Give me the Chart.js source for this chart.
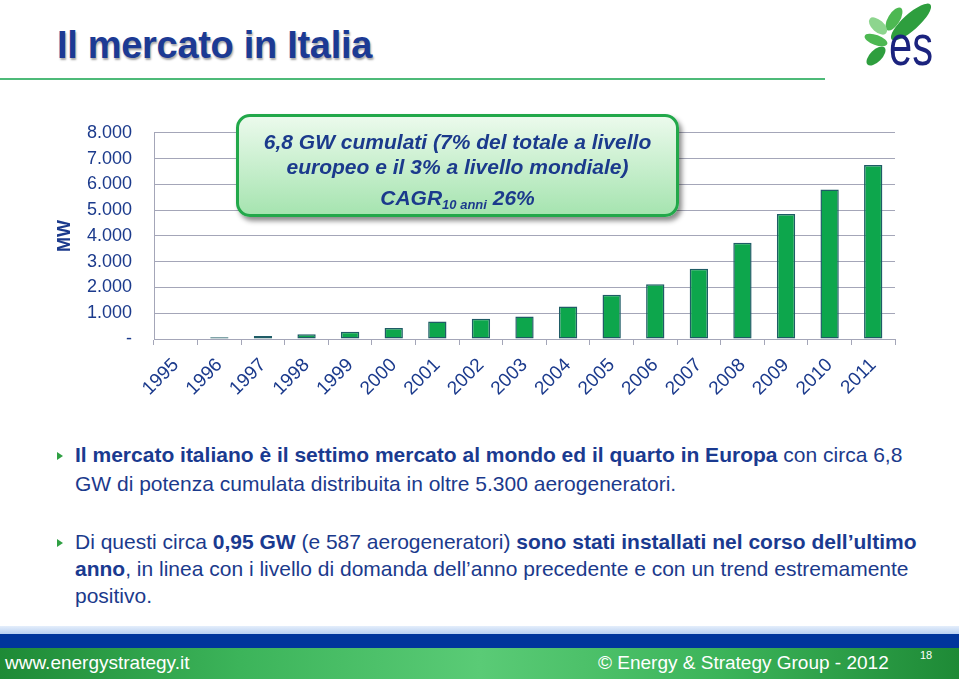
<!DOCTYPE html>
<html>
<head>
<meta charset="utf-8">
<script src="https://cdn.jsdelivr.net/npm/chart.js@4/dist/chart.umd.min.js"></script>
<style>
  body { margin: 0; width: 959px; height: 679px; background: #fff; position: relative; overflow: hidden;
         font-family: "Liberation Sans", Arial, sans-serif; color: #1B3A8C; }
  #title { position: absolute; left: 57px; top: 24px; font-size: 38px; font-weight: bold; color: #1C3A94;
           text-shadow: 1px 2px 2px rgba(0,0,0,0.35); letter-spacing: -0.3px; }
  #rule { position: absolute; left: 0; top: 78px; width: 825px; height: 2px; background: #4DBA78; }
  #logo { position: absolute; left: 850px; top: 0; }
  #chartBox { position: absolute; left: 40px; top: 100px; }
  #callout { position: absolute; left: 236px; top: 114px; width: 437px; height: 97px;
             border: 3px solid #22A84A; border-radius: 14px;
             background: linear-gradient(#EBFAEC, #A6E4B0);
             box-shadow: 3px 4px 5px rgba(0,0,0,0.45);
             text-align: center; font-weight: bold; font-style: italic; font-size: 21px; color: #1B3A8C; }
  #callout .l1 { margin-top: 12px; line-height: 25px; }
  #callout .l3 { margin-top: 6px; line-height: 25px; }
  #callout sub { font-size: 13px; vertical-align: -4px; }
  .bullet { position: absolute; left: 75px; width: 880px; font-size: 21px; color: #1B3A8C; white-space: nowrap; }
  .bullet b { color: #1A3A90; }
  .mark { position: absolute; left: 57px; width: 0; height: 0; border-top: 4px solid transparent;
          border-bottom: 4px solid transparent; border-left: 6px solid #2FA043; }
  #stripe { position: absolute; left: 0; top: 626px; width: 959px; height: 8px;
            background: linear-gradient(#E4EEFB, #B8D0F2); }
  #blueband { position: absolute; left: 0; top: 634px; width: 959px; height: 14px; background: #00359C; }
  #greenband { position: absolute; left: 0; top: 648px; width: 959px; height: 31px;
               background: linear-gradient(90deg, #1E8A36 0%, #3CB45A 25%, #5ACB76 50%, #3CB45A 75%, #1E8A36 100%); }
  .foot { position: absolute; color: #fff; font-size: 19px; }
</style>
</head>
<body>
<div id="title">Il mercato in Italia</div>
<div id="rule"></div>
<svg id="logo" width="109" height="75" viewBox="0 0 109 75">
  <ellipse cx="61" cy="22" rx="26" ry="8" transform="rotate(-42 61 22)" fill="#2E9E3E"/>
  <ellipse cx="44" cy="19" rx="13" ry="6" transform="rotate(-59 44 19)" fill="#4DB852"/>
  <ellipse cx="28" cy="26" rx="11" ry="6" transform="rotate(42 28 26)" fill="#8DD58E"/>
  <ellipse cx="26" cy="40" rx="12" ry="5" transform="rotate(20 26 40)" fill="#4DB852"/>
  <ellipse cx="26" cy="56" rx="12" ry="6" transform="rotate(-45 26 56)" fill="#2E9E3E"/>
  <text x="39" y="65" font-family="Liberation Sans, Arial, sans-serif" font-size="58" fill="#1B237E"
        textLength="44" lengthAdjust="spacingAndGlyphs">es</text>
</svg>

<div id="chartBox"><canvas id="chart" width="900" height="310"></canvas></div>

<div id="callout">
  <div class="l1">6,8 GW cumulati (7% del totale a livello<br>europeo e il 3% a livello mondiale)</div>
  <div class="l3">CAGR<sub>10 anni</sub> 26%</div>
</div>

<div class="mark" style="top: 452px;"></div>
<div class="bullet" style="top: 440px; line-height: 29px;"><b>Il mercato italiano è il settimo mercato al mondo ed il quarto in Europa</b> con circa 6,8<br>GW di potenza cumulata distribuita in oltre 5.300 aerogeneratori.</div>

<div class="mark" style="top: 539px;"></div>
<div class="bullet" style="top: 528px; line-height: 27px;">Di questi circa <b>0,95 GW</b> (e 587 aerogeneratori) <b>sono stati installati nel corso dell’ultimo</b><br><b>anno</b>, in linea con i livello di domanda dell’anno precedente e con un trend estremamente<br>positivo.</div>

<div id="stripe"></div>
<div id="blueband"></div>
<div id="greenband"></div>
<div class="foot" style="left: 5px; top: 652px;">www.energystrategy.it</div>
<div class="foot" style="left: 598px; top: 652px;">© Energy &amp; Strategy Group - 2012</div>
<div class="foot" style="left: 920px; top: 649px; font-size: 11px;">18</div>

<script>
// anni e potenza cumulata (MW)
const years = ['1995', '1996', '1997', '1998', '1999', '2000', '2001', '2002', '2003',
  '2004', '2005', '2006', '2007', '2008', '2009', '2010', '2011'];
const cumulatedMW = [22, 70, 119, 180, 277, 427, 682, 788, 874,
  1265, 1718, 2123, 2726, 3736, 4850, 5797, 6747];
const yMax = 8000;
const yStep = 1000;

const blue = '#1B3A8C';
const gridGray = '#A4A6B8';
const fontFamily = '"Liberation Sans", Arial, sans-serif';

const formatTick = (v) => v === 0 ? '-' : String(v).replace(/\B(?=(\d{3})+(?!\d))/g, '.');

new Chart(document.getElementById('chart'), {
  type: 'bar',
  data: {
    labels: years,
    datasets: [{
      label: 'MW',
      data: cumulatedMW,
      backgroundColor: '#0DA64C',
      borderColor: '#1F5C66',
      borderWidth: 1.5,
      borderSkipped: false,
      barPercentage: 0.42,
      categoryPercentage: 1
    }]
  },
  options: {
    responsive: false,
    animation: false,
    devicePixelRatio: 1,
    layout: { padding: { top: 32, right: 45, left: 0, bottom: 0 } },
    plugins: { legend: { display: false }, tooltip: { enabled: false } },
    scales: {
      x: {
        grid: { drawOnChartArea: false, drawTicks: true, tickLength: 6, color: gridGray, offset: true },
        border: { color: gridGray },
        ticks: { color: blue, font: { family: fontFamily, size: 19 }, minRotation: 45, maxRotation: 45,
                 autoSkip: false, padding: 9 },
        afterFit: (s) => { s.height = 71; }
      },
      y: {
        min: 0,
        max: yMax,
        grid: { color: gridGray, drawTicks: false },
        border: { color: gridGray },
        ticks: { stepSize: yStep, color: blue, font: { family: fontFamily, size: 18 }, padding: 22,
                 callback: formatTick },
        title: { display: true, text: 'MW', color: blue, font: { family: fontFamily, size: 18, weight: 'bold' },
                 padding: { top: 14, bottom: 0 } },
        afterFit: (s) => { s.width = 114; }
      }
    }
  }
});
</script>
</body>
</html>
